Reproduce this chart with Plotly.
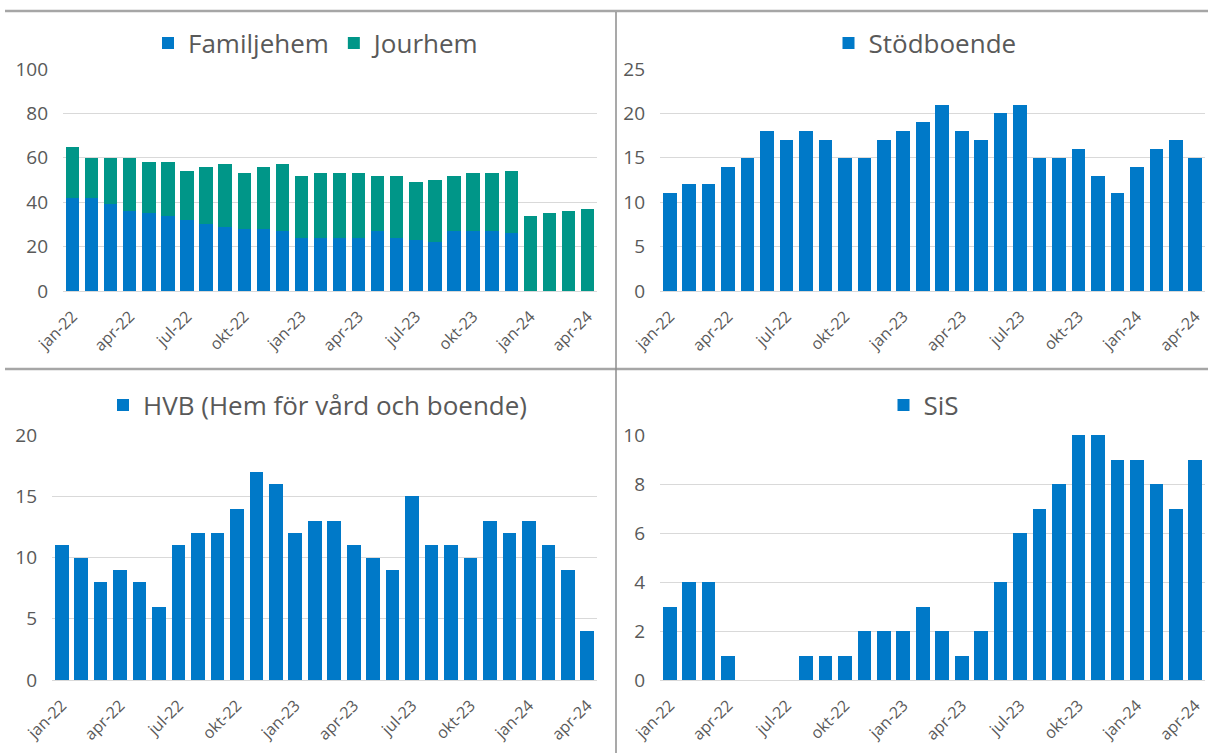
import plotly.graph_objects as go

# Months, january 2022 to april 2024
months = ["jan-22", "feb-22", "mar-22", "apr-22", "maj-22", "jun-22", "jul-22",
          "aug-22", "sep-22", "okt-22", "nov-22", "dec-22",
          "jan-23", "feb-23", "mar-23", "apr-23", "maj-23", "jun-23", "jul-23",
          "aug-23", "sep-23", "okt-23", "nov-23", "dec-23",
          "jan-24", "feb-24", "mar-24", "apr-24"]

# Axis labels shown every third month
tick_months = ["jan-22", "apr-22", "jul-22", "okt-22", "jan-23",
               "apr-23", "jul-23", "okt-23", "jan-24", "apr-24"]

familjehem = [42, 42, 39, 36, 35, 34, 32, 30, 29, 28, 28, 27,
              24, 24, 24, 24, 27, 24, 23, 22, 27, 27, 27, 26,
              None, None, None, None]
jourhem = [23, 18, 21, 24, 23, 24, 22, 26, 28, 25, 28, 30,
           28, 29, 29, 29, 25, 28, 26, 28, 25, 26, 26, 28,
           34, 35, 36, 37]
stodboende = [11, 12, 12, 14, 15, 18, 17, 18, 17, 15, 15, 17,
              18, 19, 21, 18, 17, 20, 21, 15, 15, 16, 13, 11,
              14, 16, 17, 15]
hvb = [11, 10, 8, 9, 8, 6, 11, 12, 12, 14, 17, 16,
       12, 13, 13, 11, 10, 9, 15, 11, 11, 10, 13, 12,
       13, 11, 9, 4]
sis = [3, 4, 4, 1, 0, 0, 0, 1, 1, 1, 2, 2,
       2, 3, 2, 1, 2, 4, 6, 7, 8, 10, 10, 9,
       9, 8, 7, 9]

BLUE = "#0079C8"
TEAL = "#009688"
GREY_TEXT = "#595959"
GRID = "#D9D9D9"
FONT = "Open Sans"

W, H = 1208, 753


def px_x(v):
    return v / W


def px_y(v):
    return 1 - v / H


fig = go.Figure()

fig.add_trace(go.Bar(x=months, y=familjehem, name="Familjehem", marker_color=BLUE,
                     xaxis="x", yaxis="y", legend="legend"))
fig.add_trace(go.Bar(x=months, y=jourhem, name="Jourhem", marker_color=TEAL,
                     xaxis="x", yaxis="y", legend="legend"))
fig.add_trace(go.Bar(x=months, y=stodboende, name="Stödboende", marker_color=BLUE,
                     xaxis="x2", yaxis="y2", legend="legend2"))
fig.add_trace(go.Bar(x=months, y=hvb, name="HVB (Hem för vård och boende)", marker_color=BLUE,
                     xaxis="x3", yaxis="y3", legend="legend3"))
fig.add_trace(go.Bar(x=months, y=sis, name="SiS", marker_color=BLUE,
                     xaxis="x4", yaxis="y4", legend="legend4"))

fig.update_traces(marker_line_width=0, showlegend=True)


def xaxis_style(domain, anchor):
    return dict(domain=domain, anchor=anchor, type="category",
                categoryorder="array", categoryarray=months,
                tickmode="array", tickvals=tick_months, ticktext=tick_months,
                tickangle=-45, tickfont=dict(family=FONT, size=16, color=GREY_TEXT),
                showgrid=False, showline=False, zeroline=False, ticks="",
                ticklabelstandoff=12,
                range=[-0.5, len(months) - 0.5], fixedrange=True)


def yaxis_style(domain, anchor, top, step):
    return dict(domain=domain, anchor=anchor, range=[0, top], dtick=step,
                tickfont=dict(family=FONT, size=19, color=GREY_TEXT),
                showgrid=True, gridcolor=GRID, gridwidth=1,
                zeroline=True, zerolinecolor=GRID, zerolinewidth=1,
                showline=False, ticks="", ticklabelstandoff=14, fixedrange=True)


top_dom = [px_y(291), px_y(69)]
bot_dom = [px_y(680), px_y(435)]


def legend_style(cx, cy):
    return dict(x=px_x(cx), y=px_y(cy), xanchor="center", yanchor="middle",
                orientation="h", traceorder="normal",
                font=dict(family=FONT, size=26, color=GREY_TEXT),
                bgcolor="rgba(0,0,0,0)", itemclick=False, itemdoubleclick=False)


fig.update_layout(
    width=W, height=H, autosize=False,
    margin=dict(l=0, r=0, t=0, b=0, autoexpand=False),
    paper_bgcolor="white", plot_bgcolor="white",
    barmode="stack", bargap=0.3,
    font=dict(family=FONT, color=GREY_TEXT),
    xaxis=xaxis_style([px_x(63), px_x(597)], "y"),
    yaxis=yaxis_style(top_dom, "x", 100, 20),
    xaxis2=xaxis_style([px_x(660), px_x(1205)], "y2"),
    yaxis2=yaxis_style(top_dom, "x2", 25, 5),
    xaxis3=xaxis_style([px_x(52), px_x(597)], "y3"),
    yaxis3=yaxis_style(bot_dom, "x3", 20, 5),
    xaxis4=xaxis_style([px_x(660), px_x(1205)], "y4"),
    yaxis4=yaxis_style(bot_dom, "x4", 10, 2),
    legend=legend_style(317, 43),
    legend2=legend_style(925, 43),
    legend3=legend_style(318, 405),
    legend4=legend_style(924, 405),
)

# Panel dividers
divider = dict(type="line", xref="paper", yref="paper")
fig.add_shape(**divider, x0=px_x(5), x1=1, y0=px_y(11), y1=px_y(11),
              line=dict(color="#A6A6A6", width=2.5))
fig.add_shape(**divider, x0=px_x(5), x1=1, y0=px_y(369), y1=px_y(369),
              line=dict(color="#A6A6A6", width=2.5))
fig.add_shape(**divider, x0=px_x(616), x1=px_x(616), y0=px_y(12), y1=0,
              line=dict(color="#8C8C8C", width=1.5))

fig.write_html("out.html")
